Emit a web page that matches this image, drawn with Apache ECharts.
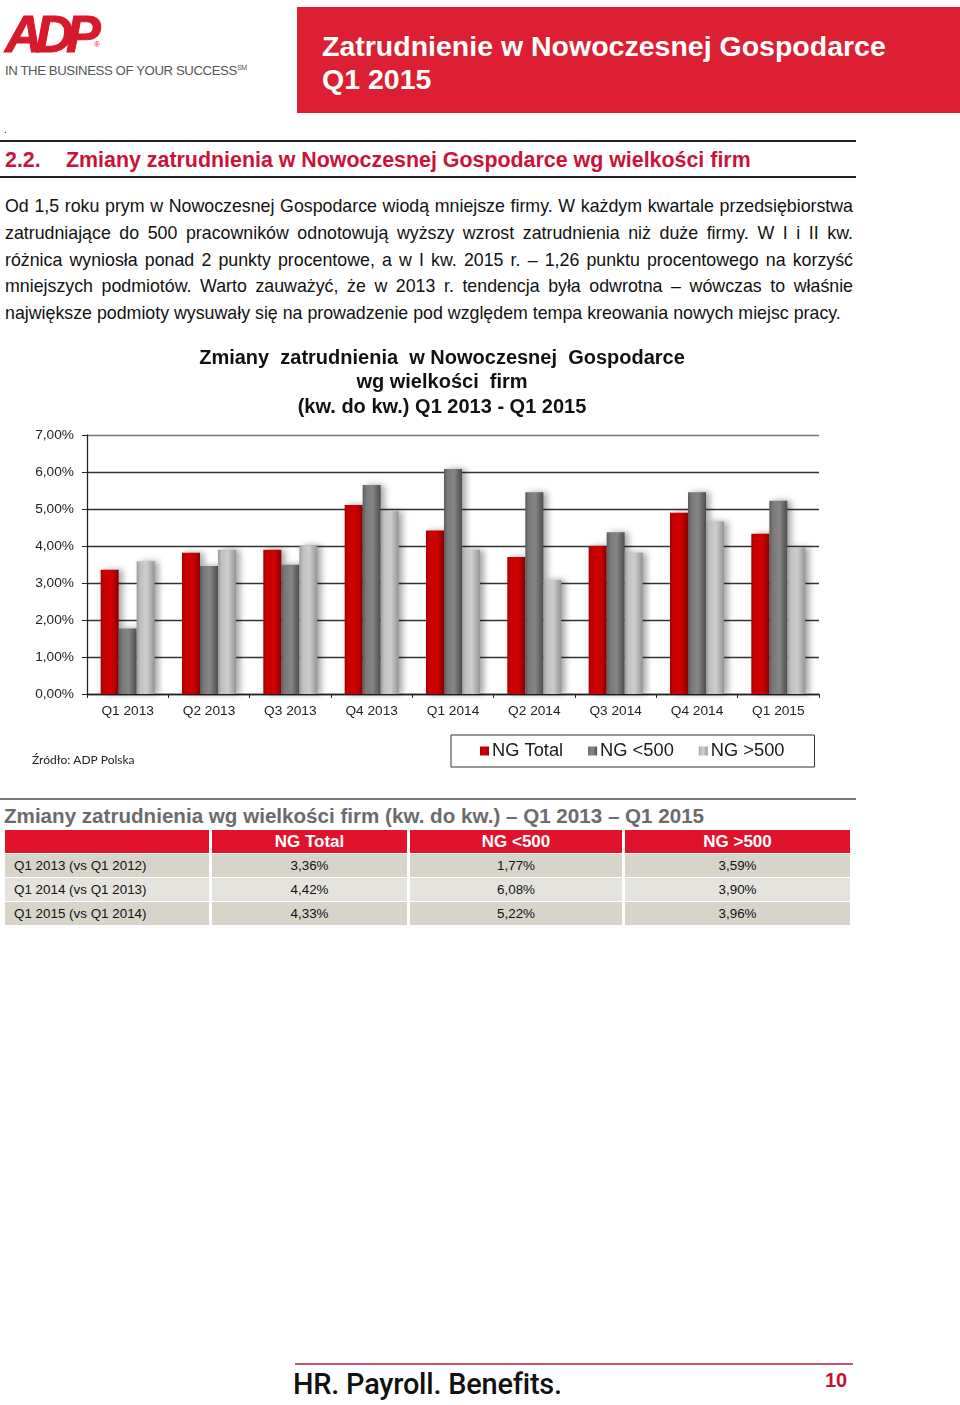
<!DOCTYPE html>
<html>
<head>
<meta charset="utf-8">
<script src="https://cdn.jsdelivr.net/npm/echarts@6/dist/echarts.min.js"></script>
<style>
  html, body { margin: 0; padding: 0; background: #fff; }
  body { width: 960px; height: 1405px; position: relative; overflow: hidden; font-family: Arial, "Liberation Sans", sans-serif; }
  .abs { position: absolute; }
  #logo { left: 5px; top: 4px; font: italic bold 52px Arial, "Liberation Sans", sans-serif; color: #d7192c; letter-spacing: -7px; -webkit-text-stroke: 1px #d7192c; }
  #tag { left: 5px; top: 63px; font-size: 13.2px; color: #555; letter-spacing: -0.4px; white-space: nowrap; }
  #hdr { left: 297px; top: 7px; width: 663px; height: 106px; background: #dc1f33; }
  #hdr div { position: absolute; left: 25px; color: #fff; font-weight: bold; font-size: 28.5px; white-space: nowrap; }
  .rule { position: absolute; height: 0; }
  #sec { left: 5px; top: 148px; font-weight: bold; font-size: 21.4px; color: #cc1236; white-space: nowrap; }
  #sec span { position: absolute; left: 61px; top: 0; }
  #para { left: 5px; top: 193px; width: 848px; font-size: 17.8px; color: #111; }
  #para div { height: 26.75px; line-height: 26.75px; text-align: justify; text-align-last: justify; white-space: nowrap; }
  #para div.last { text-align-last: left; }
  #chart { left: 0; top: 330px; width: 860px; height: 450px; }
  #ttitle { left: 4px; top: 804px; font-weight: bold; font-size: 20.6px; color: #6b6b6b; white-space: nowrap; }
  #tbl { left: 5px; top: 830px; display: grid; grid-template-columns: 204px 195px 212px 225px; column-gap: 3px; row-gap: 1px; grid-auto-rows: 23px; }
  #tbl div { font-size: 13.4px; color: #111; text-align: center; line-height: 23px; white-space: nowrap; }
  #tbl div.h { background: #e1132c; color: #fff; font-weight: bold; font-size: 17px; }
  #tbl div.odd { background: #d7d4ca; }
  #tbl div.even { background: #e5e3dd; }
  #tbl div.lab { text-align: left; padding-left: 9px; }
  #foot { left: 293px; top: 1367px; font-family: Roboto, sans-serif; font-weight: 500; font-size: 28.9px; color: #111; white-space: nowrap; letter-spacing: -0.2px; }
  #pg { left: 825px; top: 1369px; font-weight: bold; font-size: 20px; color: #c8102e; }
</style>
</head>
<body>
<div id="logo" class="abs">ADP</div>
<div class="abs" style="left:94px;top:40px;font-size:8px;color:#d7192c;">®</div>
<div id="tag" class="abs">IN THE BUSINESS OF YOUR SUCCESS<sup style="font-size:7px">SM</sup></div>
<div id="hdr" class="abs">
  <div style="top:23px;">Zatrudnienie w Nowoczesnej Gospodarce</div>
  <div style="top:56px;">Q1 2015</div>
</div>
<div class="abs" style="left:4px;top:124px;font-size:10px;">.</div>
<div class="rule" style="left:0;top:140px;width:856px;border-top:2px solid #222;"></div>
<div id="sec" class="abs">2.2.<span>Zmiany zatrudnienia w Nowoczesnej Gospodarce wg wielkości firm</span></div>
<div class="rule" style="left:0;top:176px;width:856px;border-top:2px solid #222;"></div>
<div id="para" class="abs">
  <div>Od 1,5 roku prym w Nowoczesnej Gospodarce wiodą mniejsze firmy. W każdym kwartale przedsiębiorstwa</div>
  <div>zatrudniające do 500 pracowników odnotowują wyższy wzrost zatrudnienia niż duże firmy. W I i II kw.</div>
  <div>różnica wyniosła ponad 2 punkty procentowe, a w I kw. 2015 r. – 1,26 punktu procentowego na korzyść</div>
  <div>mniejszych podmiotów. Warto zauważyć, że w 2013 r. tendencja była odwrotna – wówczas to właśnie</div>
  <div class="last">największe podmioty wysuwały się na prowadzenie pod względem tempa kreowania nowych miejsc pracy.</div>
</div>
<div id="chart" class="abs"></div>
<div class="rule" style="left:0;top:798px;width:856px;border-top:2px solid #777;"></div>
<div id="ttitle" class="abs">Zmiany zatrudnienia wg wielkości firm (kw. do kw.) – Q1 2013 – Q1 2015</div>
<div id="tbl" class="abs"></div>
<div class="rule" style="left:295px;top:1363px;width:558px;border-top:2px solid #cf5566;"></div>
<div id="foot" class="abs">HR. Payroll. Benefits.</div>
<div id="pg" class="abs">10</div>
<script>
// ---- data ----
const categories = ['Q1 2013', 'Q2 2013', 'Q3 2013', 'Q4 2013', 'Q1 2014', 'Q2 2014', 'Q3 2014', 'Q4 2014', 'Q1 2015'];
const seriesNames = ['NG Total', 'NG <500', 'NG >500'];
const ngTotal = [3.36, 3.82, 3.90, 5.11, 4.42, 3.70, 4.00, 4.90, 4.33];
const ngSmall = [1.77, 3.46, 3.49, 5.65, 6.08, 5.45, 4.37, 5.45, 5.22];
const ngLarge = [3.59, 3.90, 4.02, 4.94, 3.90, 3.08, 3.82, 4.66, 3.96];
const tableRowLabels = ['Q1 2013 (vs Q1 2012)', 'Q1 2014 (vs Q1 2013)', 'Q1 2015 (vs Q1 2014)'];
const tableRowIndex = [0, 4, 8];

const fmt = v => v.toFixed(2).replace('.', ',') + '%';
const esc = s => s.replace(/&/g, '&amp;').replace(/</g, '&lt;').replace(/>/g, '&gt;');

// ---- table ----
(function () {
  let html = ['', ...seriesNames].map(t => '<div class="h">' + esc(t) + '</div>').join('');
  tableRowLabels.forEach((lab, r) => {
    const i = tableRowIndex[r];
    const cls = r % 2 === 0 ? 'odd' : 'even';
    html += '<div class="' + cls + ' lab">' + esc(lab) + '</div>' +
      [ngTotal[i], ngSmall[i], ngLarge[i]].map(v => '<div class="' + cls + '">' + fmt(v) + '</div>').join('');
  });
  document.getElementById('tbl').innerHTML = html;
})();

// ---- chart ----
const G = echarts.graphic.LinearGradient;
const redGrad = new G(0, 0, 1, 0, [
  { offset: 0, color: '#9a0000' }, { offset: 0.12, color: '#c40000' },
  { offset: 0.6, color: '#d00000' }, { offset: 1, color: '#8c0000' }]);
const darkGrad = new G(0, 0, 1, 0, [
  { offset: 0, color: '#5c5c5c' }, { offset: 0.2, color: '#7a7a7a' },
  { offset: 0.55, color: '#858585' }, { offset: 1, color: '#4e4e4e' }]);
const lightGrad = new G(0, 0, 1, 0, [
  { offset: 0, color: '#9c9c9c' }, { offset: 0.2, color: '#c0c0c0' },
  { offset: 0.55, color: '#cdcdcd' }, { offset: 1, color: '#959595' }]);

const chart = echarts.init(document.getElementById('chart'), null, { renderer: 'canvas' });
const barStyle = c => ({ color: c, shadowColor: 'rgba(0,0,0,0.35)', shadowBlur: 6, shadowOffsetX: 4, shadowOffsetY: 0 });
const AR = 'Arial, "Liberation Sans", sans-serif';

chart.setOption({
  animation: false,
  backgroundColor: '#fff',
  graphic: [
    { type: 'text', x: 442, y: 16, z: 10,
      style: { text: 'Zmiany  zatrudnienia  w Nowoczesnej  Gospodarce\nwg wielkości  firm\n(kw. do kw.) Q1 2013 - Q1 2015',
        textAlign: 'center', fill: '#111', font: 'bold 20px ' + AR, lineHeight: 24.5 } },
    { type: 'text', x: 32, y: 424, z: 10,
      style: { text: 'Źródło: ADP Polska', fill: '#222', font: '12px Lato, sans-serif' } }
  ],
  legend: {
    left: 451, top: 405,
    padding: [7, 30, 7, 29],
    borderColor: '#333', borderWidth: 1,
    itemWidth: 9, itemHeight: 9, itemGap: 25,
    icon: 'rect',
    textStyle: { fontSize: 18.3, color: '#1a1a1a', fontFamily: AR, padding: [0, 0, 0, -2] },
    data: seriesNames
  },
  grid: { left: 87, right: 41, top: 105, height: 259 },
  xAxis: {
    type: 'category', data: categories,
    axisLine: { lineStyle: { color: '#222', width: 1.3 } },
    axisTick: { show: true, length: 4, lineStyle: { color: '#222' } },
    axisLabel: { fontSize: 13.7, color: '#222', margin: 10, fontFamily: AR }
  },
  yAxis: {
    type: 'value', min: 0, max: 7, interval: 1,
    axisLine: { show: true, lineStyle: { color: '#222', width: 1.3 } },
    axisTick: { show: true, length: 5, lineStyle: { color: '#222' } },
    axisLabel: { fontSize: 13.7, color: '#222', margin: 13, formatter: v => fmt(v), fontFamily: AR },
    splitLine: { lineStyle: { color: ['#333', '#333', '#333', '#333', '#333', '#333', '#333', '#777'], width: 1.3 } }
  },
  series: [
    { name: seriesNames[0], type: 'bar', data: ngTotal, barWidth: 18, barGap: '0%', itemStyle: barStyle(redGrad) },
    { name: seriesNames[1], type: 'bar', data: ngSmall, barWidth: 18, barGap: '0%', itemStyle: barStyle(darkGrad) },
    { name: seriesNames[2], type: 'bar', data: ngLarge, barWidth: 18, barGap: '0%', itemStyle: barStyle(lightGrad) }
  ]
});
</script>
</body>
</html>
